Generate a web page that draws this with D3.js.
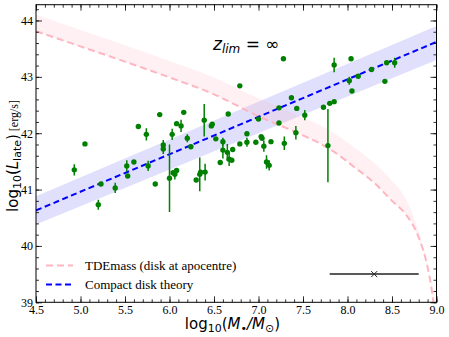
<!DOCTYPE html>
<html><head><meta charset="utf-8">
<script src="https://cdn.jsdelivr.net/npm/d3@7"></script>
<style>body{margin:0;background:#fff}svg{display:block}</style>
</head><body><svg id="c" width="449" height="337"></svg>
<script>
// ---- data ----
const massLog = [4.93,5.05,5.20,5.23,5.39,5.52,5.53,5.60,5.65,5.74,5.76,5.84,5.89,5.93,5.93,6.00,6.03,6.04,6.06,6.08,6.08,6.13,6.16,6.20,6.24,6.30,6.34,6.35,6.39,6.40,6.47,6.48,6.52,6.57,6.60,6.60,6.65,6.66,6.67,6.70,6.71,6.79,6.79,6.87,6.87,6.97,7.00,7.03,7.04,7.06,7.09,7.12,7.14,7.23,7.23,7.28,7.29,7.37,7.43,7.42,7.52,7.73,7.80,7.85,7.78,7.85,8.04,8.02,8.05,8.12,8.27,8.42,8.44,8.53];
const lumLog = [41.35,41.81,40.73,41.10,41.03,41.42,41.24,41.49,42.12,41.98,41.42,41.10,42.33,41.79,41.72,41.20,41.98,41.30,41.27,41.34,42.17,42.13,42.37,41.91,41.76,41.17,41.27,41.31,42.23,41.31,42.13,42.16,41.90,41.48,41.85,41.70,41.66,42.34,41.54,41.52,41.71,41.81,42.84,41.84,41.99,41.84,42.25,41.94,41.91,41.77,41.49,41.43,41.85,42.18,42.45,43.32,41.82,42.63,42.44,42.01,42.32,42.46,42.53,42.56,41.78,43.21,43.32,42.93,42.75,43.01,43.13,42.92,43.25,43.25];
const lumErr = [0.10,0,0.09,0,0.09,0.10,0,0,0,0.11,0.09,0,0,0.09,0.09,0.60,0.10,0,0.09,0,0,0.11,0,0.07,0,0,0.30,0,0.29,0.15,0,0,0,0,0.07,0.15,0.15,0,0.12,0,0,0,0,0.08,0,0,0,0,0,0.10,0.12,0.09,0,0,0,0,0.12,0,0,0.12,0.09,0,0,0,0.65,0.13,0,0.07,0,0,0,0,0,0.09];

// compact disk theory line and its band
const fitM = [4.5, 9.0];
const fitL = [40.63, 43.62];
const fitLo = [40.38, 43.30];
const fitHi = [40.88, 43.90];

// TDEmass curve (disk at apocentre) and its band upper edge
const tdeM = [4.5,5.0,5.5,6.0,6.5,7.0,7.5,7.8,8.1,8.3,8.5,8.65,8.8,8.9,8.95,8.965];
const tdeL = [43.81,43.54,43.27,42.99,42.69,42.30,41.96,41.72,41.37,41.12,40.80,40.57,40.15,39.62,39.18,39.0];
const tdeUpM = [4.5,5.0,5.5,6.0,6.5,7.0,7.5,7.8,8.1,8.3,8.5,8.65,8.8,8.9,8.96,8.985];
const tdeUpL = [44.10,43.83,43.56,43.28,42.99,42.62,42.28,42.05,41.72,41.47,41.15,40.85,40.25,39.68,39.2,39.0];

// typical uncertainty marker
const typM = 8.3, typMerr = 0.5, typL = 39.5;

const xTicks = [4.5,5.0,5.5,6.0,6.5,7.0,7.5,8.0,8.5,9.0];
const yTicks = [39,40,41,42,43,44];

// ---- layout ----
const L = 36, R = 436.5, T = 4.7, B = 302.3;
const svg = d3.select("#c");
const x = d3.scaleLinear().domain([4.5, 9.0]).range([L, R]);
const y = d3.scaleLinear().domain([39, 44.28]).range([B, T]);

svg.append("defs").append("clipPath").attr("id","clip")
  .append("rect").attr("x",L).attr("y",T).attr("width",R-L).attr("height",B-T);
const plot = svg.append("g").attr("clip-path","url(#clip)");

// blue band
const bandPts = fitM.map((m,i)=>[m,fitHi[i]]).concat(fitM.map((m,i)=>[m,fitLo[i]]).reverse());
plot.append("path").attr("d", d3.line().x(d=>x(d[0])).y(d=>y(d[1]))(bandPts)+"Z")
  .attr("fill","rgba(0,0,240,0.12)");

// pink band
const lineC = d3.line().x(d=>x(d[0])).y(d=>y(d[1])).curve(d3.curveMonotoneX);
const upPts = tdeUpM.map((m,i)=>[m,tdeUpL[i]]);
const loPts = tdeM.map((m,i)=>[m,tdeL[i]]);
plot.append("path")
  .attr("d", lineC(upPts) + lineC(loPts.slice().reverse()).replace(/^M/,"L") + "Z")
  .attr("fill","rgba(255,182,193,0.2)");

// pink dashed curve
plot.append("path").attr("d", lineC(loPts)).attr("fill","none")
  .attr("stroke","#ffb6c1").attr("stroke-width",2).attr("stroke-dasharray","7,4");

// blue dashed line
plot.append("path").attr("d", d3.line().x(d=>x(d[0])).y(d=>y(d[1]))(fitM.map((m,i)=>[m,fitL[i]])))
  .attr("fill","none").attr("stroke","#0000ff").attr("stroke-width",2).attr("stroke-dasharray","6,3.5");

// data points
const pts = massLog.map((m,i)=>({m, l:lumLog[i], e:lumErr[i]}));
plot.selectAll(".eb").data(pts.filter(d=>d.e>0)).enter().append("line")
  .attr("x1",d=>x(d.m)).attr("x2",d=>x(d.m))
  .attr("y1",d=>y(d.l-d.e)).attr("y2",d=>y(d.l+d.e))
  .attr("stroke","#008000").attr("stroke-width",1.5);
plot.selectAll(".pt").data(pts).enter().append("circle")
  .attr("cx",d=>x(d.m)).attr("cy",d=>y(d.l)).attr("r",2.7).attr("fill","#008000");

// typical uncertainty
plot.append("line").attr("x1",x(typM-typMerr)).attr("x2",x(typM+typMerr))
  .attr("y1",y(typL)).attr("y2",y(typL)).attr("stroke","#222").attr("stroke-width",1.5);
const cx0 = x(typM), cy0 = y(typL);
plot.append("path").attr("d",`M${cx0-3},${cy0-3}L${cx0+3},${cy0+3}M${cx0-3},${cy0+3}L${cx0+3},${cy0-3}`)
  .attr("stroke","#222").attr("stroke-width",1);

// ---- axes ----
const axG = svg.append("g");
const serif = "Liberation Serif, Times New Roman, serif";
function styleAxis(g){ g.select(".domain").remove(); g.selectAll("line").attr("stroke","#000").attr("stroke-width",0.8);
  g.selectAll("text").attr("font-family",serif).attr("font-size",12).attr("fill","#000"); }
axG.append("g").attr("transform",`translate(0,${B})`)
  .call(d3.axisBottom(x).tickValues(xTicks).tickSize(-6).tickPadding(3).tickFormat(d3.format(".1f"))).call(styleAxis);
axG.append("g").attr("transform",`translate(0,${B})`)
  .call(d3.axisBottom(x).ticks(45).tickSize(-3).tickFormat("")).call(styleAxis);
axG.append("g").attr("transform",`translate(0,${T})`)
  .call(d3.axisTop(x).tickValues(xTicks).tickSize(-6).tickFormat("")).call(styleAxis);
axG.append("g").attr("transform",`translate(0,${T})`)
  .call(d3.axisTop(x).ticks(45).tickSize(-3).tickFormat("")).call(styleAxis);
axG.append("g").attr("transform",`translate(${L},0)`)
  .call(d3.axisLeft(y).tickValues(yTicks).tickSize(-6).tickPadding(3).tickFormat(d3.format("d"))).call(styleAxis);
axG.append("g").attr("transform",`translate(${L},0)`)
  .call(d3.axisLeft(y).ticks(25).tickSize(-3).tickFormat("")).call(styleAxis);
axG.append("g").attr("transform",`translate(${R},0)`)
  .call(d3.axisRight(y).tickValues(yTicks).tickSize(-6).tickFormat("")).call(styleAxis);
axG.append("g").attr("transform",`translate(${R},0)`)
  .call(d3.axisRight(y).ticks(25).tickSize(-3).tickFormat("")).call(styleAxis);
svg.append("rect").attr("x",L).attr("y",T).attr("width",R-L).attr("height",B-T)
  .attr("fill","none").attr("stroke","#000").attr("stroke-width",1);

// ---- labels ----
const sans = "DejaVu Sans, sans-serif";
const xl = svg.append("text").attr("x",232.5).attr("y",329).attr("text-anchor","middle")
  .attr("font-family",sans).attr("font-size",15).attr("fill","#000");
xl.append("tspan").text("log");
xl.append("tspan").attr("font-size",11).attr("dy",3).text("10");
xl.append("tspan").attr("dy",-3).text("(");
xl.append("tspan").attr("font-style","italic").text("M");
xl.append("tspan").attr("font-size",11).attr("dy",3).text("•");
xl.append("tspan").attr("dy",-3).attr("font-style","italic").text("/M");
xl.append("tspan").attr("font-size",11).attr("dy",3).text("⊙");
xl.append("tspan").attr("dy",-3).text(")");

const yl = svg.append("text").attr("transform","translate(18,156) rotate(-90)").attr("text-anchor","middle")
  .attr("font-family",sans).attr("font-size",15).attr("fill","#000");
yl.append("tspan").text("log");
yl.append("tspan").attr("font-size",11).attr("dy",3).text("10");
yl.append("tspan").attr("dy",-3).text("(");
yl.append("tspan").attr("font-style","italic").text("L");
yl.append("tspan").attr("font-size",11).attr("dy",3).text("late");
yl.append("tspan").attr("dy",-3).text(")");
yl.append("tspan").attr("font-family",serif).attr("font-size",12).text(" [erg/s]");

const tt = svg.append("text").attr("x",213).attr("y",49.5).attr("font-family",sans).attr("font-size",17).attr("fill","#000");
tt.append("tspan").attr("font-style","italic").text("z");
tt.append("tspan").attr("font-style","italic").attr("font-size",12).attr("dy",3).text("lim");
tt.append("tspan").attr("dy",-3).text(" = ∞");

// legend
const lg = svg.append("g");
const legItems = [{t:"TDEmass (disk at apocentre)", c:"#ffb6c1", d:"7,4"},{t:"Compact disk theory", c:"#0000ff", d:"6,3.5"}];
legItems.forEach((it,i)=>{
  const yy = 265.5 + i*19;
  lg.append("line").attr("x1",46).attr("x2",73).attr("y1",yy).attr("y2",yy)
    .attr("stroke",it.c).attr("stroke-width",2).attr("stroke-dasharray",it.d);
  lg.append("text").attr("x",85).attr("y",yy+4.5).attr("font-family",serif).attr("font-size",13).attr("fill","#000").text(it.t);
});
</script></body></html>
